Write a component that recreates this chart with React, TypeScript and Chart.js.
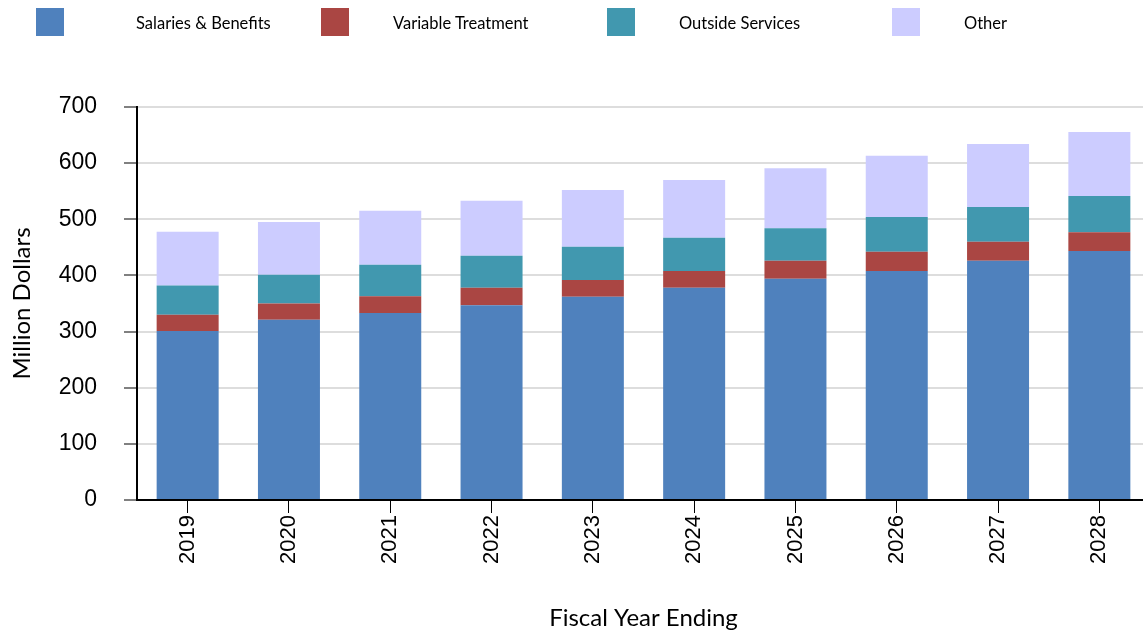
import React, { useEffect, useRef } from "react";
import { Chart, registerables } from "chart.js";

Chart.register(...registerables);

const years = ["2019", "2020", "2021", "2022", "2023", "2024", "2025", "2026", "2027", "2028"];
const salaries = [301, 321, 333, 347, 362, 378, 394, 408, 426, 443.5];
const variableTreatment = [29, 29, 30, 31, 30, 30, 32, 34, 34, 33.5];
const outsideServices = [52, 51, 56, 57, 59, 59, 58, 62, 62, 64.5];
const other = [96, 94, 96, 98, 101, 103, 107, 109, 112, 114];
const yTicks = [0, 100, 200, 300, 400, 500, 600, 700];

const seriesNames = ["Salaries & Benefits", "Variable Treatment", "Outside Services", "Other"];
const seriesColors = ["#4F81BD", "#AA4643", "#4198AF", "#CCCCFF"];
const seriesValues = [salaries, variableTreatment, outsideServices, other];

const legendBoxLeft = [36, 321, 607, 892];
const legendTextLeft = [136, 393, 679, 964];

const titleFont = "Lato, 'Open Sans', sans-serif";
const tickFont = "'Liberation Sans', Arial, sans-serif";

export default function App() {
  const ref = useRef<HTMLCanvasElement | null>(null);

  useEffect(() => {
    document.body.style.margin = "0";
    document.body.style.overflow = "hidden";
    if (!ref.current) return;
    const chart = new Chart(ref.current, {
      type: "bar",
      data: {
        labels: years,
        datasets: seriesNames.map((name, i) => ({
          label: name,
          data: seriesValues[i],
          backgroundColor: seriesColors[i],
          borderWidth: 0,
          categoryPercentage: 1,
          barPercentage: 0.612,
        })),
      },
      options: {
        responsive: false,
        animation: false,
        devicePixelRatio: 1,
        layout: { padding: { top: 107, left: 0, right: 0, bottom: 0 } },
        plugins: {
          legend: { display: false },
          tooltip: { enabled: false },
        },
        scales: {
          x: {
            stacked: true,
            afterFit: (scale: any) => {
              scale.height = 134;
            },
            border: { color: "#000000", width: 2 },
            grid: {
              offset: false,
              drawOnChartArea: false,
              drawTicks: true,
              tickLength: 13,
              tickColor: "#000000",
            },
            ticks: {
              maxRotation: 90,
              minRotation: 90,
              padding: 2,
              color: "#000000",
              font: { family: tickFont, size: 22 },
            },
            title: {
              display: true,
              text: "Fiscal Year Ending",
              color: "#000000",
              font: { family: titleFont, size: 24 },
              padding: { top: 0, bottom: 1.6 },
            },
          },
          y: {
            stacked: true,
            min: 0,
            max: 700,
            afterFit: (scale: any) => {
              scale.width = 137;
            },
            afterBuildTicks: (scale: any) => {
              scale.ticks = yTicks.map((v) => ({ value: v }));
            },
            border: { color: "#000000", width: 2 },
            grid: {
              color: "#DDDDDD",
              lineWidth: 2,
              tickLength: 13,
              tickColor: "#808080",
            },
            ticks: {
              padding: 27,
              color: "#000000",
              font: { family: tickFont, size: 23 },
            },
            title: {
              display: true,
              text: "Million Dollars",
              color: "#000000",
              font: { family: titleFont, size: 24 },
              padding: { top: 7.6, bottom: 0 },
            },
          },
        },
      },
    });
    return () => chart.destroy();
  }, []);

  return (
    <div style={{ position: "fixed", left: 0, top: 0, width: 1143, height: 634, overflow: "hidden", background: "#ffffff" }}>
      <canvas ref={ref} width={1150} height={634} style={{ position: "absolute", left: 0, top: 0, width: 1150, height: 634 }} />
      {seriesNames.map((name, i) => (
        <React.Fragment key={name}>
          <div
            style={{
              position: "absolute",
              left: legendBoxLeft[i],
              top: 8,
              width: 28,
              height: 28,
              background: seriesColors[i],
            }}
          />
          <div
            style={{
              position: "absolute",
              left: legendTextLeft[i],
              top: 8,
              height: 28,
              lineHeight: "30px",
              fontFamily: titleFont,
              fontSize: 16.5,
              color: "#000000",
              whiteSpace: "nowrap",
            }}
          >
            {name}
          </div>
        </React.Fragment>
      ))}
    </div>
  );
}
